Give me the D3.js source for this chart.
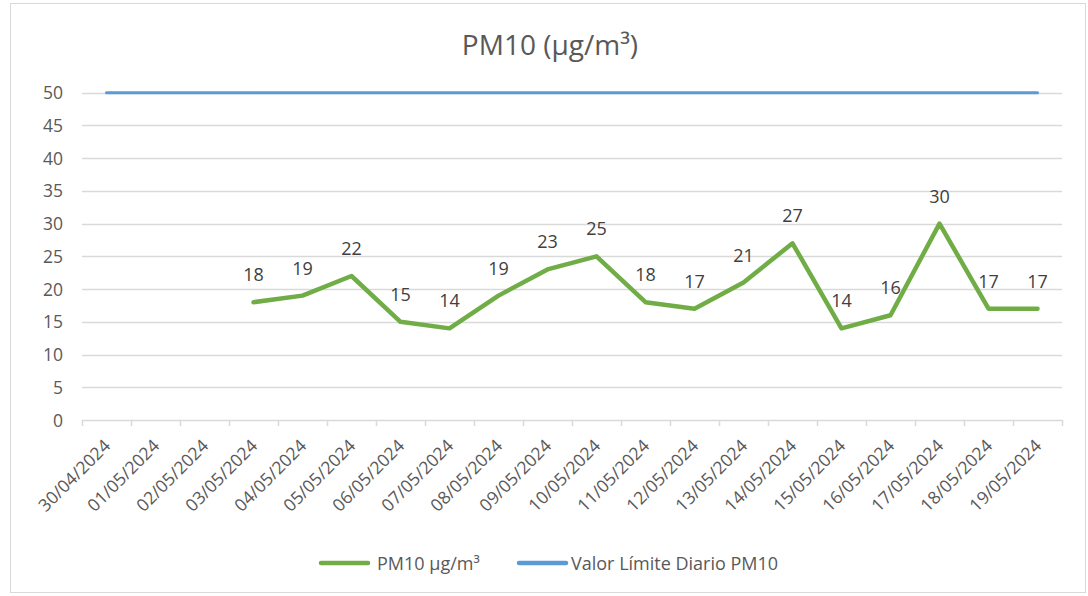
<!DOCTYPE html>
<html><head><meta charset="utf-8">
<script src="https://cdn.jsdelivr.net/npm/d3@7"></script>
<style>body{margin:0;background:#fff}svg text{font-family:"Open Sans",sans-serif}</style>
</head><body><svg id="c" width="1088" height="596"></svg>
<script>
const categories = ["30/04/2024","01/05/2024","02/05/2024","03/05/2024","04/05/2024","05/05/2024","06/05/2024","07/05/2024","08/05/2024","09/05/2024","10/05/2024","11/05/2024","12/05/2024","13/05/2024","14/05/2024","15/05/2024","16/05/2024","17/05/2024","18/05/2024","19/05/2024"];
const pm10 = [null,null,null,18,19,22,15,14,19,23,25,18,17,21,27,14,16,30,17,17];
const limit = [50,50,50,50,50,50,50,50,50,50,50,50,50,50,50,50,50,50,50,50];
const yTicks = [0,5,10,15,20,25,30,35,40,45,50];
const seriesNames = ["PM10 µg/m³","Valor Límite Diario PM10"];
const title = "PM10 (µg/m³)";

const svg = d3.select("#c");
svg.append("rect").attr("x",10.5).attr("y",3.5).attr("width",1075).attr("height",589).attr("fill","#fff").attr("stroke","#d9d9d9");

const x = d3.scaleBand().domain(categories).range([82,1062]);
const y = d3.scaleLinear().domain([0,50]).range([420,92.7]);
const cx = d => x(d) + x.bandwidth()/2;

svg.append("text").attr("x",550).attr("y",55).attr("text-anchor","middle").attr("font-size",28).attr("fill","#595959").text(title);

// gridlines
svg.append("g").selectAll("line").data(yTicks.filter(t=>t>0)).join("line")
  .attr("x1",82).attr("x2",1062).attr("y1",d=>Math.round(y(d))+0.5).attr("y2",d=>Math.round(y(d))+0.5)
  .attr("stroke","#d9d9d9").attr("stroke-width",1.5);
// y labels
svg.append("g").selectAll("text").data(yTicks).join("text")
  .attr("x",63).attr("y",d=>y(d)+6.5).attr("text-anchor","end").attr("font-size",17.5).attr("fill","#595959").text(d=>d);

// x axis
const xa = svg.append("g").attr("transform","translate(0,420.5)")
  .call(d3.axisBottom(x).tickSize(0).tickFormat(""));
xa.select(".domain").attr("stroke","#d9d9d9").attr("stroke-width",1.5).attr("d","M82,0H1062");
const tickPos = categories.map(c=>x(c)).concat([1062]);
svg.append("g").selectAll("line").data(tickPos).join("line")
  .attr("x1",d=>Math.round(d)+0.5).attr("x2",d=>Math.round(d)+0.5).attr("y1",420).attr("y2",426)
  .attr("stroke","#d9d9d9").attr("stroke-width",1.5);
svg.append("g").selectAll("text").data(categories).join("text")
  .attr("transform",d=>`translate(${cx(d)+5},${447}) rotate(-45)`)
  .attr("text-anchor","end").attr("font-size",17.5).attr("fill","#595959").text(d=>d);

// lines
const line = d3.line().defined(d=>d[1]!=null).x(d=>cx(d[0])).y(d=>y(d[1]));
svg.append("path").datum(categories.map((c,i)=>[c,limit[i]])).attr("d",line)
  .attr("fill","none").attr("stroke","#5b9bd5").attr("stroke-width",3).attr("stroke-linecap","round");
svg.append("path").datum(categories.map((c,i)=>[c,pm10[i]])).attr("d",line)
  .attr("fill","none").attr("stroke","#70ad47").attr("stroke-width",4.5).attr("stroke-linecap","round").attr("stroke-linejoin","round");

// data labels
svg.append("g").selectAll("text").data(categories.map((c,i)=>[c,pm10[i]]).filter(d=>d[1]!=null)).join("text")
  .attr("x",d=>cx(d[0])).attr("y",d=>y(d[1])-21).attr("text-anchor","middle").attr("font-size",18).attr("fill","#404040").text(d=>d[1]);

// legend
const lg = svg.append("g");
const legendItems = [{name:seriesNames[0],color:"#70ad47",x:321,tx:377},{name:seriesNames[1],color:"#5b9bd5",x:519,tx:571}];
legendItems.forEach(it=>{
  lg.append("line").attr("x1",it.x).attr("x2",it.x+47).attr("y1",563).attr("y2",563).attr("stroke",it.color).attr("stroke-width",4.5).attr("stroke-linecap","round");
  lg.append("text").attr("x",it.tx).attr("y",569.5).attr("font-size",18).attr("fill","#595959").text(it.name);
});
</script></body></html>
